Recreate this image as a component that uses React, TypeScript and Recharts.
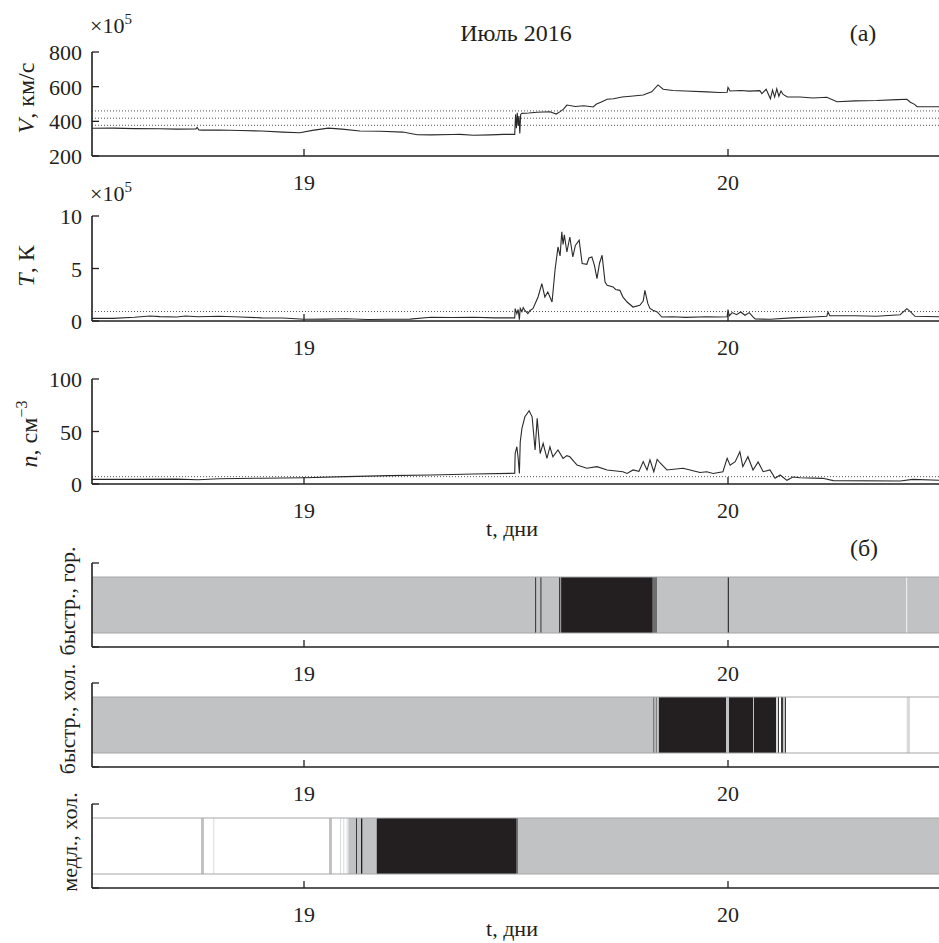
import React from 'react';
import { LineChart, Line, XAxis, YAxis, ReferenceLine, ReferenceArea, ComposedChart } from 'recharts';

const FONT = "'Liberation Serif', 'Times New Roman', serif";
const INK = '#231f20';

// ---- axes / ticks ----
const X_DOMAIN: [number, number] = [18.5, 20.5];
const X_TICKS = [19, 20];

const speedTicks = [200, 400, 600, 800];
const tempTicks = [0, 5, 10];
const densTicks = [0, 50, 100];

const speedThresholds = [460, 418, 377];
const tempThresholds = [0.9];
const densThresholds = [7];

// ---- series: [day, value] ----
const speedSeries: [number, number][] = [
  [18.5, 360], [18.55, 361], [18.6, 358], [18.66, 357], [18.7, 355], [18.745, 356], [18.748, 365], [18.752, 350],
  [18.76, 349], [18.8, 350], [18.85, 347], [18.9, 344], [18.95, 338], [18.99, 334], [19.02, 348], [19.057, 361],
  [19.09, 355], [19.132, 344], [19.18, 343], [19.233, 338], [19.267, 323], [19.3, 322], [19.35, 324], [19.368, 325],
  [19.4, 320], [19.44, 322], [19.47, 325], [19.497, 325], [19.499, 440], [19.501, 360], [19.503, 450], [19.505, 375],
  [19.507, 430], [19.509, 330], [19.511, 440], [19.514, 446], [19.53, 448], [19.55, 452], [19.58, 455], [19.595, 442],
  [19.604, 456], [19.612, 470], [19.62, 494], [19.64, 486], [19.66, 490], [19.682, 483], [19.69, 500], [19.7, 510],
  [19.715, 527], [19.73, 530], [19.75, 540], [19.77, 545], [19.8, 552], [19.82, 570], [19.835, 610], [19.847, 585],
  [19.87, 578], [19.9, 575], [19.95, 570], [19.98, 566], [19.998, 568], [20.0, 596], [20.005, 575], [20.03, 578],
  [20.05, 574], [20.075, 577], [20.08, 560], [20.09, 585], [20.1, 530], [20.105, 580], [20.11, 540], [20.115, 588],
  [20.12, 545], [20.125, 575], [20.13, 555], [20.14, 540], [20.17, 540], [20.2, 535], [20.233, 539], [20.257, 513],
  [20.3, 518], [20.35, 520], [20.4, 525], [20.422, 527], [20.43, 510], [20.44, 498], [20.446, 484], [20.5, 484],
];

const tempSeries: [number, number][] = [
  [18.5, 0.25], [18.55, 0.25], [18.6, 0.35], [18.637, 0.48], [18.66, 0.42], [18.7, 0.38], [18.72, 0.47], [18.75, 0.4],
  [18.8, 0.45], [18.85, 0.38], [18.9, 0.3], [18.95, 0.28], [19.0, 0.16], [19.05, 0.18], [19.1, 0.22], [19.15, 0.15],
  [19.2, 0.17], [19.25, 0.18], [19.3, 0.35], [19.35, 0.33], [19.4, 0.36], [19.45, 0.3], [19.497, 0.3], [19.498, 1.18],
  [19.502, 0.7], [19.505, 1.1], [19.508, 0.13], [19.51, 1.2], [19.514, 0.9], [19.517, 1.28], [19.521, 1.0], [19.528, 0.7],
  [19.533, 1.0], [19.54, 1.18], [19.552, 2.29], [19.561, 3.56], [19.568, 2.29], [19.575, 2.76], [19.585, 1.81],
  [19.592, 4.83], [19.599, 7.05], [19.604, 6.2], [19.608, 8.5], [19.611, 7.3], [19.614, 8.2], [19.62, 6.57], [19.627, 8.0],
  [19.634, 6.1], [19.64, 7.2], [19.649, 7.69], [19.656, 5.47], [19.667, 5.4], [19.672, 6.0], [19.679, 6.1], [19.685, 5.3],
  [19.691, 4.03], [19.697, 5.5], [19.703, 6.26], [19.71, 3.71], [19.715, 3.4], [19.729, 3.24], [19.735, 3.0], [19.745, 2.92],
  [19.752, 2.3], [19.762, 1.81], [19.776, 1.33], [19.792, 1.49], [19.8, 1.9], [19.804, 2.92], [19.811, 1.65], [19.816, 1.2],
  [19.823, 1.02], [19.833, 0.86], [19.844, 0.38], [19.87, 0.4], [19.9, 0.35], [19.95, 0.4], [19.98, 0.38], [19.998, 0.4],
  [20.0, 1.09], [20.003, 0.5], [20.01, 0.8], [20.02, 0.6], [20.03, 0.86], [20.04, 0.55], [20.05, 0.8], [20.059, 0.4],
  [20.064, 0.2], [20.1, 0.16], [20.15, 0.3], [20.2, 0.38], [20.233, 0.45], [20.236, 0.86], [20.24, 0.5], [20.3, 0.5],
  [20.35, 0.45], [20.406, 0.6], [20.422, 1.18], [20.43, 0.9], [20.441, 0.45], [20.5, 0.4],
];

const densSeries: [number, number][] = [
  [18.5, 4.4], [18.6, 4.4], [18.7, 4.6], [18.75, 4.0], [18.8, 5.0], [18.9, 5.5], [19.0, 6.0], [19.1, 7.0], [19.2, 8.0],
  [19.3, 8.6], [19.4, 9.5], [19.497, 10.2], [19.498, 29], [19.502, 35.5], [19.505, 25], [19.508, 10], [19.51, 40],
  [19.514, 53], [19.521, 64], [19.531, 69.8], [19.538, 64], [19.545, 32.4], [19.55, 62.6], [19.557, 29], [19.564, 38.7],
  [19.573, 24.4], [19.58, 35.5], [19.587, 25.9], [19.599, 32.4], [19.611, 24.4], [19.62, 27], [19.627, 25.9],
  [19.644, 18], [19.667, 15], [19.691, 16.5], [19.715, 13.4], [19.752, 11.7], [19.762, 10], [19.776, 13.4], [19.79, 12],
  [19.8, 21.3], [19.809, 13.4], [19.816, 23], [19.825, 11.7], [19.833, 23.5], [19.84, 20], [19.856, 13.4], [19.894, 15],
  [19.934, 11], [19.95, 11.7], [19.965, 10], [19.988, 11.7], [19.998, 24.4], [20.005, 18], [20.017, 21.3], [20.028, 30.8],
  [20.035, 16.5], [20.047, 26], [20.059, 13.4], [20.071, 21], [20.083, 11.7], [20.099, 13.4], [20.111, 5.4], [20.123, 8.6],
  [20.139, 3.5], [20.153, 6.7], [20.17, 6], [20.224, 5.4], [20.248, 3.2], [20.406, 2.9], [20.436, 4.4], [20.5, 3.5],
];

// ---- classification strips: [from, to, kind] ----
const fastHotSpans: [number, number, string][] = [
  [18.5, 20.5, 'gray'], [19.545, 19.5475, 'dark'], [19.5575, 19.56, 'dark'], [19.6015, 19.6045, 'dark'],
  [19.6065, 19.8224, 'black'], [19.8224, 19.8325, 'mid'], [19.9995, 20.002, 'black'], [20.4205, 20.4225, 'white'],
];

const fastColdSpans: [number, number, string][] = [
  [18.5, 19.824, 'gray'], [19.824, 19.826, 'dark'], [19.827, 19.829, 'mid'], [19.831, 19.833, 'dark'],
  [19.833, 19.837, 'gray'], [19.837, 19.9953, 'black'], [19.9953, 20.0024, 'gray'], [20.0024, 20.059, 'black'],
  [20.059, 20.0613, 'gray'], [20.0613, 20.1132, 'black'], [20.1132, 20.1179, 'light'], [20.1179, 20.1203, 'dark'],
  [20.1203, 20.125, 'white'], [20.125, 20.1297, 'dark'], [20.1297, 20.1344, 'gray'], [20.1344, 20.137, 'dark'],
  [20.137, 20.5, 'white'], [20.4214, 20.4292, 'light'],
];

const slowColdSpans: [number, number, string][] = [
  [18.5, 19.1045, 'white'], [18.7571, 18.7642, 'gray'], [18.7861, 18.7884, 'light'], [19.059, 19.066, 'gray'],
  [19.0849, 19.0873, 'light'], [19.0927, 19.095, 'light'], [19.1005, 19.103, 'light'], [19.1045, 19.1715, 'gray'],
  [19.1226, 19.125, 'dark'], [19.1344, 19.1375, 'black'], [19.1715, 19.5017, 'black'], [19.5017, 19.5047, 'mid'],
  [19.5047, 20.5, 'gray'],
];

const SPAN_COLORS: Record<string, string> = {
  gray: '#c1c2c4',
  black: '#231f20',
  dark: '#3a3a3b',
  mid: '#6d6e70',
  light: '#d9dadb',
  white: '#ffffff',
};

const M_TOP = 22;
const X_AXIS_H = 44;
const fontStyle = { fontFamily: FONT } as const;

function xTick(bottom: number) {
  return (p: any) => (
    <text x={p.x} y={bottom + 34} textAnchor="middle" style={fontStyle} fontSize={22} fill={INK}>
      {p.payload.value}
    </text>
  );
}

function yTick(p: any) {
  return (
    <text x={82} y={p.y + 8} textAnchor="end" style={fontStyle} fontSize={22} fill={INK}>
      {p.payload.value}
    </text>
  );
}

function LinePanel({ top, h, series, yDomain, yTicks, thresholds }: any) {
  const data = series.map(([t, y]: [number, number]) => ({ t, y }));
  const bottom = M_TOP + h;
  return (
    <div style={{ position: 'absolute', left: 0, top: top - M_TOP }}>
      <LineChart width={940} height={M_TOP + h + X_AXIS_H} data={data} margin={{ top: M_TOP, right: 0, bottom: 0, left: 32 }}>
        <XAxis type="number" dataKey="t" domain={X_DOMAIN} ticks={X_TICKS} allowDataOverflow interval={0} height={X_AXIS_H}
          axisLine={{ stroke: INK, strokeWidth: 1.6 }} tickLine={{ stroke: INK, strokeWidth: 1.3 }} tickSize={-7}
          tick={xTick(bottom)} />
        <YAxis type="number" domain={yDomain} ticks={yTicks} allowDataOverflow interval={0} width={60}
          axisLine={{ stroke: INK, strokeWidth: 1.6 }} tickLine={{ stroke: INK, strokeWidth: 1.3 }} tickSize={-7}
          tick={yTick} />
        {thresholds.map((v: number) => (
          <ReferenceLine key={v} y={v} stroke="#555" strokeWidth={1} strokeDasharray="1 2" />
        ))}
        <Line type="linear" dataKey="y" stroke="#2a2a2a" strokeWidth={1.1} dot={false} isAnimationActive={false} />
      </LineChart>
    </div>
  );
}

function StripPanel({ top, h, spans }: any) {
  const data = spans.map((s: [number, number, string]) => ({ t: s[0] }));
  const bottom = M_TOP + h;
  return (
    <div style={{ position: 'absolute', left: 0, top: top - M_TOP }}>
      <ComposedChart width={940} height={M_TOP + h + X_AXIS_H} data={data} margin={{ top: M_TOP, right: 0, bottom: 0, left: 32 }}>
        <XAxis type="number" dataKey="t" domain={X_DOMAIN} ticks={X_TICKS} allowDataOverflow interval={0} height={X_AXIS_H}
          axisLine={{ stroke: INK, strokeWidth: 1.6 }} tickLine={{ stroke: INK, strokeWidth: 1.3 }} tickSize={-7}
          tick={xTick(bottom)} />
        <YAxis type="number" domain={[0, 1.5]} ticks={[0, 1.5]} allowDataOverflow interval={0} width={60}
          axisLine={{ stroke: INK, strokeWidth: 1.6 }} tickLine={{ stroke: INK, strokeWidth: 1.3 }} tickSize={-7}
          tick={() => <g />} />
        {spans.map(([a, b, kind]: [number, number, string], i: number) => (
          <ReferenceArea key={i} x1={a} x2={b} y1={0.25} y2={1.25} fill={SPAN_COLORS[kind]} fillOpacity={1}
            stroke="none" ifOverflow="visible" />
        ))}
        <ReferenceLine y={0.25} stroke="#a5a6a8" strokeWidth={1} />
        <ReferenceLine y={1.25} stroke="#a5a6a8" strokeWidth={1} />
      </ComposedChart>
    </div>
  );
}

const txt = { style: fontStyle, fill: INK };

export default function App() {
  return (
    <div style={{ position: 'absolute', left: 0, top: 0, width: 939, height: 943, overflow: 'hidden', background: '#fff', fontFamily: FONT }}>
      <LinePanel top={52} h={104} series={speedSeries} yDomain={[200, 800]} yTicks={speedTicks} thresholds={speedThresholds} />
      <LinePanel top={216} h={105} series={tempSeries} yDomain={[0, 10]} yTicks={tempTicks} thresholds={tempThresholds} />
      <LinePanel top={379} h={105} series={densSeries} yDomain={[0, 100]} yTicks={densTicks} thresholds={densThresholds} />
      <StripPanel top={563} h={84} spans={fastHotSpans} />
      <StripPanel top={683} h={84} spans={fastColdSpans} />
      <StripPanel top={804} h={84} spans={slowColdSpans} />
      <svg width={939} height={943} style={{ position: 'absolute', left: 0, top: 0, pointerEvents: 'none' }}>
        <text x={90} y={33} fontSize={22} {...txt}>×10<tspan dy={-9} fontSize={15}>5</tspan></text>
        <text x={90} y={201} fontSize={22} {...txt}>×10<tspan dy={-9} fontSize={15}>5</tspan></text>
        <text x={516} y={41} fontSize={24} textAnchor="middle" {...txt}>Июль 2016</text>
        <text x={863} y={41} fontSize={24} textAnchor="middle" {...txt}>(а)</text>
        <text x={864} y={556} fontSize={24} textAnchor="middle" {...txt}>(б)</text>
        <text x={512} y={536} fontSize={22} textAnchor="middle" {...txt}>t, дни</text>
        <text x={512} y={936} fontSize={22} textAnchor="middle" {...txt}>t, дни</text>
        <text transform="translate(34,98) rotate(-90)" fontSize={24} textAnchor="middle" {...txt}>
          <tspan fontStyle="italic">V</tspan>, км/с
        </text>
        <text transform="translate(34,266) rotate(-90)" fontSize={24} textAnchor="middle" {...txt}>
          <tspan fontStyle="italic">T</tspan>, К
        </text>
        <text transform="translate(37,434) rotate(-90)" fontSize={24} textAnchor="middle" {...txt}>
          <tspan fontStyle="italic">n</tspan>, см<tspan dy={-10} fontSize={16}>−3</tspan>
        </text>
        <text transform="translate(75,601) rotate(-90)" fontSize={22} textAnchor="middle" {...txt}>быстр., гор.</text>
        <text transform="translate(75,719) rotate(-90)" fontSize={22} textAnchor="middle" {...txt}>быстр., хол.</text>
        <text transform="translate(77,842) rotate(-90)" fontSize={22} textAnchor="middle" {...txt}>медл., хол.</text>
      </svg>
    </div>
  );
}
